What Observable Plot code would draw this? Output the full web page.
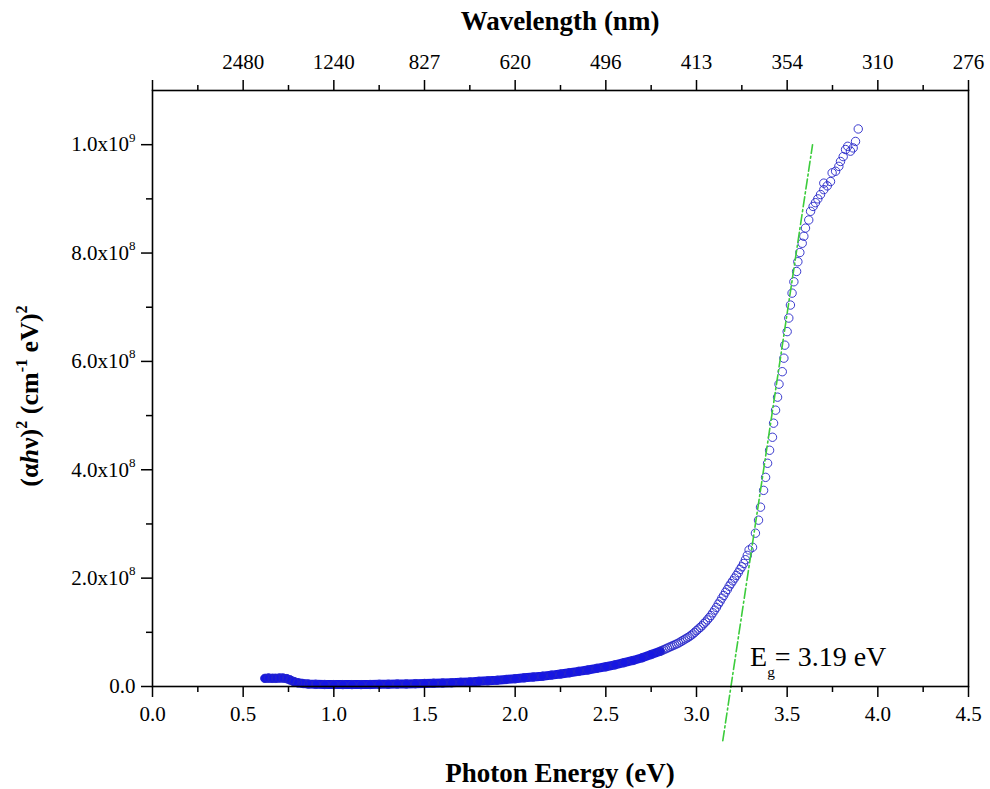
<!DOCTYPE html>
<html><head><meta charset="utf-8">
<script src="https://cdn.jsdelivr.net/npm/d3@7"></script>
<script src="https://cdn.jsdelivr.net/npm/@observablehq/plot@0.6"></script>
<style>body{margin:0;background:#fff}</style>
</head><body><div id="chart"></div>
<script>
// Photon energy (eV) of each measured point
const energyEV = [
0.62,0.64,0.66,0.68,0.70,0.72,0.74,0.76,0.78,0.80,0.83,0.86,0.90,0.95,1.00,1.05,1.10,1.15,1.20,1.25,
1.30,1.35,1.40,1.45,1.50,1.55,1.60,1.65,1.70,1.75,1.80,1.85,1.90,1.95,2.00,2.05,2.10,2.15,2.20,2.25,
2.30,2.35,2.40,2.45,2.50,2.55,2.60,2.65,2.70,2.75,2.80,2.81,2.82,2.83,2.84,2.85,2.86,2.87,2.88,2.89,
2.90,2.91,2.92,2.93,2.94,2.95,2.96,2.97,2.98,2.99,3.00,3.01,3.02,3.03,3.04,3.05,3.06,3.07,3.08,3.09,
3.10,3.11,3.12,3.13,3.14,3.15,3.16,3.17,3.18,3.19,3.20,3.21,3.22,3.23,3.24,3.25,3.26,3.27,3.28,3.29,
3.309,3.325,3.342,3.353,3.370,3.381,3.392,3.403,3.419,3.425,3.436,3.447,3.455,3.473,3.482,3.487,
3.500,3.509,3.518,3.527,3.537,3.552,3.559,3.570,3.583,3.592,3.601,3.619,3.629,3.643,3.656,3.669,
3.684,3.702,3.702,3.721,3.739,3.748,3.767,3.785,3.794,3.809,3.822,3.834,3.849,3.864,3.877,3.892];
// (alpha h nu)^2 in units of 1e8 cm^-2 eV^2
const absorb1e8 = [
0.15,0.155,0.15,0.15,0.155,0.155,0.145,0.12,0.09,0.07,0.055,0.045,0.04,0.037,0.035,0.035,0.035,0.035,0.037,0.04,
0.042,0.045,0.048,0.052,0.056,0.06,0.065,0.07,0.077,0.085,0.095,0.105,0.115,0.13,0.145,0.16,0.175,0.19,0.21,0.23,
0.255,0.28,0.305,0.335,0.365,0.40,0.44,0.48,0.53,0.59,0.65,0.665,0.68,0.695,0.71,0.725,0.74,0.755,0.77,0.785,
0.80,0.82,0.84,0.86,0.88,0.90,0.92,0.945,0.97,1.00,1.03,1.06,1.09,1.12,1.16,1.19,1.23,1.27,1.31,1.36,
1.41,1.46,1.52,1.57,1.63,1.68,1.74,1.79,1.85,1.90,1.95,2.00,2.05,2.10,2.16,2.21,2.27,2.34,2.42,2.52,
2.57,2.83,3.07,3.31,3.62,3.86,4.12,4.36,4.60,4.86,5.10,5.34,5.58,5.81,6.06,6.30,
6.55,6.80,7.04,7.26,7.47,7.66,7.84,8.01,8.18,8.31,8.46,8.61,8.77,8.86,8.93,9.00,
9.08,9.17,9.29,9.24,9.32,9.48,9.51,9.60,9.69,9.78,9.91,9.97,9.88,9.94,10.06,10.29];

// Linear fit (Tauc extrapolation)
const fitEnergy = [3.145, 3.64];
const fitAbsorb = [-1.0e8, 10.0e8];
const bandGap = "3.19";

// Axis ticks and labels
const majorEnergy = [0, 0.5, 1, 1.5, 2, 2.5, 3, 3.5, 4, 4.5];
const minorEnergy = [0.25, 0.75, 1.25, 1.75, 2.25, 2.75, 3.25, 3.75, 4.25];
const energyLabels = ["0.0","0.5","1.0","1.5","2.0","2.5","3.0","3.5","4.0","4.5"];
const wavelengthLabels = ["", "2480", "1240", "827", "620", "496", "413", "354", "310", "276"];
const yMajor = [0, 2e8, 4e8, 6e8, 8e8, 1e9];
const yMinor = [1e8, 3e8, 5e8, 7e8, 9e8];
const yLabels = ["0.0", "2.0x10^8", "4.0x10^8", "6.0x10^8", "8.0x10^8", "1.0x10^9"];

const points = energyEV.map((e, i) => ({e, a: absorb1e8[i] * 1e8}));
const dense = points.filter(d => d.e <= 2.8);
const fit = fitEnergy.map((e, i) => ({e, a: fitAbsorb[i]}));

const font = "'Liberation Serif', 'Times New Roman', serif";
const tickW = 1.5;
const tickFont = 21;

const plot = Plot.plot({
  width: 990, height: 789,
  marginLeft: 152, marginRight: 22, marginTop: 90, marginBottom: 103,
  style: {fontFamily: font, fontSize: tickFont + "px", background: "#fff", color: "#000"},
  x: {domain: [0, 4.5]},
  y: {domain: [0, 1.1e9]},
  marks: [
    Plot.line(dense, {x: "e", y: "a", stroke: "#1616e2", strokeWidth: 9, strokeLinecap: "round", strokeLinejoin: "round"}),
    Plot.dot(points, {x: "e", y: "a", r: 4.2, stroke: "#2626c8", strokeWidth: 0.9, fill: "none"}),
    Plot.line(fit, {x: "e", y: "a", stroke: "#3ccc3c", strokeWidth: 1.6, strokeDasharray: "10,3,2,3"}),
    Plot.frame({stroke: "#000", strokeWidth: 1.6}),
    Plot.axisX({anchor: "bottom", ticks: majorEnergy, tickSize: 11, tickPadding: 9, strokeWidth: tickW,
      tickFormat: d => energyLabels[majorEnergy.indexOf(d)], label: null, fontSize: tickFont}),
    Plot.axisX({anchor: "bottom", ticks: minorEnergy, tickSize: 6, strokeWidth: tickW, tickFormat: () => "", label: null}),
    Plot.axisX({anchor: "top", ticks: majorEnergy, tickSize: 11, tickPadding: 11, strokeWidth: tickW,
      tickFormat: d => wavelengthLabels[majorEnergy.indexOf(d)], label: null, fontSize: tickFont}),
    Plot.axisX({anchor: "top", ticks: minorEnergy, tickSize: 6, strokeWidth: tickW, tickFormat: () => "", label: null}),
    Plot.axisY({anchor: "left", ticks: yMajor, tickSize: 11, tickPadding: 6, strokeWidth: tickW,
      tickFormat: d => yLabels[yMajor.indexOf(d)], label: null, fontSize: tickFont}),
    Plot.axisY({anchor: "left", ticks: yMinor, tickSize: 6, strokeWidth: tickW, tickFormat: () => "", label: null})
  ]
});
document.getElementById("chart").appendChild(plot);

const svg = d3.select(plot);
// superscripts in y tick labels
svg.selectAll("text").each(function() {
  const s = this.textContent;
  if (s.includes("^")) {
    const [b, e] = s.split("^");
    const t = d3.select(this);
    t.text(null);
    t.append("tspan").text(b);
    t.append("tspan").attr("dy", "-0.75em").attr("font-size", "0.62em").text(e);
  }
});

function rich(textSel, parts, fs) {
  let off = 0;
  parts.forEach(p => {
    const ts = textSel.append("tspan").text(p.t);
    let target = 0;
    if (p.sup) { target = -0.42 * fs; ts.attr("font-size", fs * 0.62); }
    if (p.sub) { target = p.sub; ts.attr("font-size", fs * 0.55); }
    if (target !== off) { ts.attr("dy", target - off); off = target; }
    if (p.italic) ts.attr("font-style", "italic");
  });
}

// Axis titles
svg.append("text").attr("x", 560).attr("y", 30).attr("text-anchor", "middle")
  .attr("font-family", font).attr("font-weight", "bold").attr("font-size", 27).text("Wavelength (nm)");
svg.append("text").attr("x", 560).attr("y", 782).attr("text-anchor", "middle")
  .attr("font-family", font).attr("font-weight", "bold").attr("font-size", 27).text("Photon Energy (eV)");
const yt = svg.append("text").attr("transform", "translate(38,396) rotate(-90)").attr("text-anchor", "middle")
  .attr("font-family", font).attr("font-weight", "bold").attr("font-size", 26);
rich(yt, [{t: "(α"}, {t: "h", italic: true}, {t: "ν)"}, {t: "2", sup: true}, {t: " (cm"}, {t: "-1", sup: true},
  {t: " eV)"}, {t: "2", sup: true}], 26);

// Band gap annotation
const xs = plot.scale("x"), ys = plot.scale("y");
const eg = svg.append("text").attr("x", xs.apply(3.298)).attr("y", ys.apply(0.037e9))
  .attr("text-anchor", "start").attr("font-family", font).attr("font-size", 28);
rich(eg, [{t: "E"}, {t: "g", sub: 11}, {t: "= " + bandGap + " eV"}], 28);
</script></body></html>
